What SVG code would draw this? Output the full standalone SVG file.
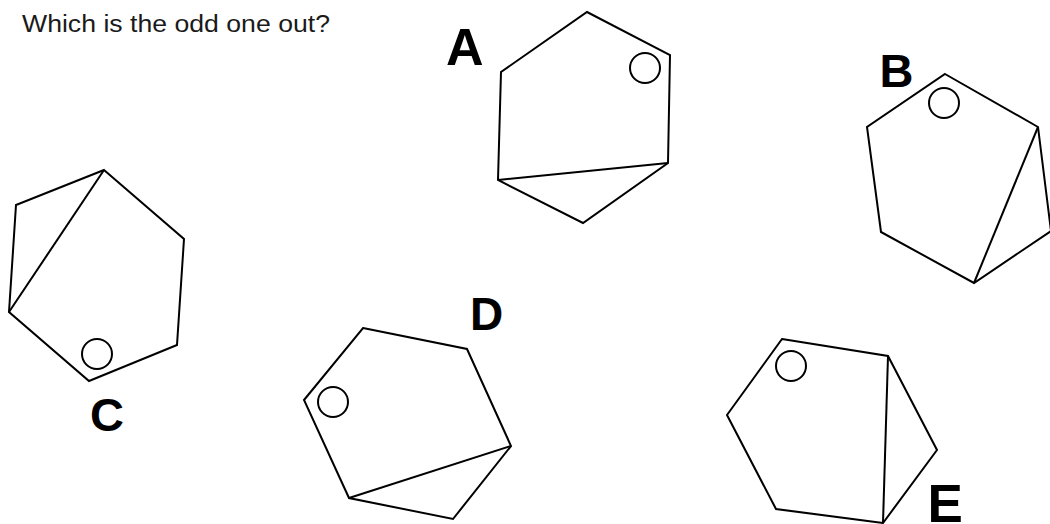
<svg xmlns="http://www.w3.org/2000/svg" width="1050" height="524" viewBox="0 0 1050 524">
<style>
.shape{fill:none;stroke:#000;stroke-width:2;stroke-linejoin:miter}
.dot{fill:none;stroke:#000;stroke-width:2}
.lbl{font-family:"Liberation Sans",Arial,sans-serif;font-weight:bold;fill:#000}
.title{font-family:"Liberation Sans",Arial,sans-serif;fill:#1a1a1a}
</style>
<rect width="1050" height="524" fill="#fff"/>
<text class="title" x="22" y="31.5" font-size="23" textLength="308" lengthAdjust="spacingAndGlyphs">Which is the odd one out?</text>
<g id="A">
<polygon class="shape" points="587,12 670,55 668,163 583,223 498,180 501,72"/>
<line class="shape" x1="498" y1="180" x2="668" y2="163"/>
<circle class="dot" cx="645" cy="68" r="15"/>
<text class="lbl" x="446" y="65" font-size="52">A</text>
</g>
<g id="B">
<polygon class="shape" points="945,74 1038,127 1051,231 974,283 881,232 867,127"/>
<line class="shape" x1="1038" y1="127" x2="974" y2="283"/>
<circle class="dot" cx="944" cy="103" r="15"/>
<text class="lbl" x="879.5" y="86.5" font-size="47">B</text>
</g>
<g id="C">
<polygon class="shape" points="104,170 184,239 177,345 89,381 9,312 16,205"/>
<line class="shape" x1="104" y1="170" x2="9" y2="312"/>
<circle class="dot" cx="97" cy="354" r="15"/>
<text class="lbl" x="90" y="431" font-size="47">C</text>
</g>
<g id="D">
<polygon class="shape" points="363,328 467,349 511,446 453,519 349,498 304,400"/>
<line class="shape" x1="349" y1="498" x2="511" y2="446"/>
<circle class="dot" cx="333" cy="402" r="15"/>
<text class="lbl" x="470" y="330" font-size="46">D</text>
</g>
<g id="E">
<polygon class="shape" points="782,339 888,356 937,450 883,523 776,509 727,415"/>
<line class="shape" x1="888" y1="356" x2="883" y2="523"/>
<circle class="dot" cx="791" cy="366" r="15"/>
<text class="lbl" x="927.5" y="522" font-size="53">E</text>
</g>
<g id="connectors"/>
</svg>
